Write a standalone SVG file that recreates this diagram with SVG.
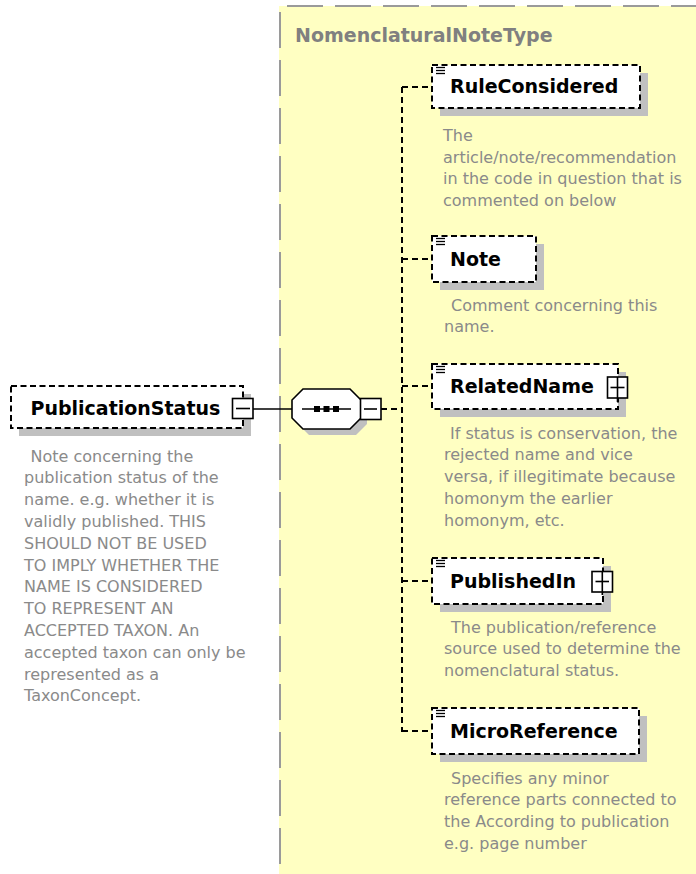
<svg xmlns="http://www.w3.org/2000/svg" width="696" height="874" viewBox="0 0 696 874">
<defs>
<style>
.bg{fill:#ffffc2}
.frame{stroke:#9a9a9a;stroke-width:2;stroke-dasharray:36 12;fill:none}
.box{fill:#ffffff;stroke:#000;stroke-width:2;stroke-dasharray:6 3.5}
.shadow{fill:#c0c0c0}
.name{font-family:"DejaVu Sans","Liberation Sans",sans-serif;font-weight:bold;font-size:19px;fill:#000}
.title{font-family:"DejaVu Sans","Liberation Sans",sans-serif;font-weight:bold;font-size:19px;fill:#808080}
.desc{font-family:"DejaVu Sans","Liberation Sans",sans-serif;font-size:16px;fill:#8a8a8a}
.conn{stroke:#000;stroke-width:2;stroke-dasharray:6 4;fill:none}
.solid{stroke:#000;stroke-width:1.6;fill:none}
.exp{fill:#fff;stroke:#000;stroke-width:1.6}
.icon{stroke:#000;stroke-width:1.3}
</style>
</defs>

<!-- complex type background -->
<g id="NomenclaturalNoteType">
<rect class="bg" x="279" y="6" width="417" height="868"/>
<line class="frame" x1="287" y1="6" x2="696" y2="6"/>
<line class="frame" x1="280" y1="12" x2="280" y2="874"/>
<text class="title" x="295" y="41.5">NomenclaturalNoteType</text>
</g>

<!-- connectors -->
<g id="connectors">
<line class="solid" x1="253" y1="409" x2="292" y2="409"/>
<line class="conn" x1="381" y1="409" x2="402" y2="409"/>
<line class="conn" x1="402" y1="87" x2="402" y2="732"/>
<line class="conn" x1="402" y1="87" x2="432" y2="87"/>
<line class="conn" x1="402" y1="259" x2="432" y2="259"/>
<line class="conn" x1="402" y1="386" x2="432" y2="386"/>
<line class="conn" x1="402" y1="581" x2="432" y2="581"/>
<line class="conn" x1="402" y1="731" x2="432" y2="731"/>
</g>

<!-- PublicationStatus -->
<g id="PublicationStatus">
<rect class="shadow" x="19" y="394" width="232" height="42"/>
<rect class="box" x="11" y="386" width="232" height="42"/>
<text class="name" x="30.5" y="415">PublicationStatus</text>
<rect class="exp" x="232.5" y="398.5" width="20.5" height="20"/>
<line class="solid" x1="236" y1="408.5" x2="250" y2="408.5"/>
<g class="desc">
<text x="30.5" y="461.6">Note concerning the</text>
<text x="24" y="483.4">publication status of the</text>
<text x="24" y="505.2">name. e.g. whether it is</text>
<text x="24" y="527">validly published. THIS</text>
<text x="24" y="548.8">SHOULD NOT BE USED</text>
<text x="24" y="570.6">TO IMPLY WHETHER THE</text>
<text x="24" y="592.4">NAME IS CONSIDERED</text>
<text x="24" y="614.2">TO REPRESENT AN</text>
<text x="24" y="636">ACCEPTED TAXON. An</text>
<text x="24" y="657.8">accepted taxon can only be</text>
<text x="24" y="679.6">represented as a</text>
<text x="24" y="701.4">TaxonConcept.</text>
</g>
</g>

<!-- sequence compositor -->
<g id="sequence">
<polygon class="shadow" points="309,395 356,395 367,406 367,424 356,435 309,435 298,424 298,406"/>
<polygon fill="#fff" stroke="#000" stroke-width="1.6" points="303,389 350,389 361,400 361,418 350,429 303,429 292,418 292,400"/>
<line class="solid" x1="302" y1="409" x2="351" y2="409"/>
<rect x="314" y="406" width="6" height="6" fill="#000"/>
<rect x="323.5" y="406" width="6" height="6" fill="#000"/>
<rect x="333" y="406" width="6" height="6" fill="#000"/>
<rect class="exp" x="360.5" y="398.5" width="20.5" height="21"/>
<line class="solid" x1="364" y1="409" x2="377" y2="409"/>
</g>

<!-- RuleConsidered -->
<g id="RuleConsidered">
<rect class="shadow" x="440" y="73" width="208" height="43"/>
<rect class="box" x="432" y="65" width="208" height="43"/>
<line class="icon" x1="436" y1="67.5" x2="445" y2="67.5"/>
<line class="icon" x1="436" y1="70.5" x2="445" y2="70.5"/>
<line class="icon" x1="436" y1="73.5" x2="445" y2="73.5"/>
<text class="name" x="450" y="93.3">RuleConsidered</text>
<g class="desc">
<text x="443" y="141">The</text>
<text x="443" y="162.7">article/note/recommendation</text>
<text x="443" y="184.4">in the code in question that is</text>
<text x="443" y="206.1">commented on below</text>
</g>
</g>

<!-- Note -->
<g id="Note">
<rect class="shadow" x="440" y="244" width="104" height="46"/>
<rect class="box" x="432" y="236" width="104" height="46"/>
<line class="icon" x1="436" y1="238.5" x2="445" y2="238.5"/>
<line class="icon" x1="436" y1="241.5" x2="445" y2="241.5"/>
<line class="icon" x1="436" y1="244.5" x2="445" y2="244.5"/>
<text class="name" x="450" y="266">Note</text>
<g class="desc">
<text x="451" y="310.5">Comment concerning this</text>
<text x="444" y="332.2">name.</text>
</g>
</g>

<!-- RelatedName -->
<g id="RelatedName">
<rect class="shadow" x="440" y="372" width="186" height="45"/>
<rect class="box" x="432" y="364" width="186" height="45"/>
<line class="icon" x1="436" y1="366.5" x2="445" y2="366.5"/>
<line class="icon" x1="436" y1="369.5" x2="445" y2="369.5"/>
<line class="icon" x1="436" y1="372.5" x2="445" y2="372.5"/>
<text class="name" x="450" y="393.3">RelatedName</text>
<rect class="exp" x="607.5" y="377" width="20" height="21"/>
<line class="solid" x1="610.5" y1="387.5" x2="624.5" y2="387.5"/>
<line class="solid" x1="617.5" y1="377" x2="617.5" y2="402"/>
<g class="desc">
<text x="450" y="438.7">If status is conservation, the</text>
<text x="444" y="460.4">rejected name and vice</text>
<text x="444" y="482.1">versa, if illegitimate because</text>
<text x="444" y="503.8">homonym the earlier</text>
<text x="444" y="525.5">homonym, etc.</text>
</g>
</g>

<!-- PublishedIn -->
<g id="PublishedIn">
<rect class="shadow" x="440" y="566" width="171" height="46"/>
<rect class="box" x="432" y="558" width="171" height="46"/>
<line class="icon" x1="436" y1="560.5" x2="445" y2="560.5"/>
<line class="icon" x1="436" y1="563.5" x2="445" y2="563.5"/>
<line class="icon" x1="436" y1="566.5" x2="445" y2="566.5"/>
<text class="name" x="450" y="588.3">PublishedIn</text>
<rect class="exp" x="592" y="571.5" width="20.5" height="20.5"/>
<line class="solid" x1="595.5" y1="581.5" x2="609" y2="581.5"/>
<line class="solid" x1="602.3" y1="571.5" x2="602.3" y2="595"/>
<g class="desc">
<text x="451" y="632.6">The publication/reference</text>
<text x="444" y="654.3">source used to determine the</text>
<text x="444" y="676">nomenclatural status.</text>
</g>
</g>

<!-- MicroReference -->
<g id="MicroReference">
<rect class="shadow" x="440" y="716" width="207" height="46"/>
<rect class="box" x="432" y="708" width="207" height="46"/>
<line class="icon" x1="436" y1="710.5" x2="445" y2="710.5"/>
<line class="icon" x1="436" y1="713.5" x2="445" y2="713.5"/>
<line class="icon" x1="436" y1="716.5" x2="445" y2="716.5"/>
<text class="name" x="450" y="738.3">MicroReference</text>
<g class="desc">
<text x="451" y="783.6">Specifies any minor</text>
<text x="444" y="805.3">reference parts connected to</text>
<text x="444" y="827">the According to publication</text>
<text x="444" y="848.7">e.g. page number</text>
</g>
</g>
</svg>
